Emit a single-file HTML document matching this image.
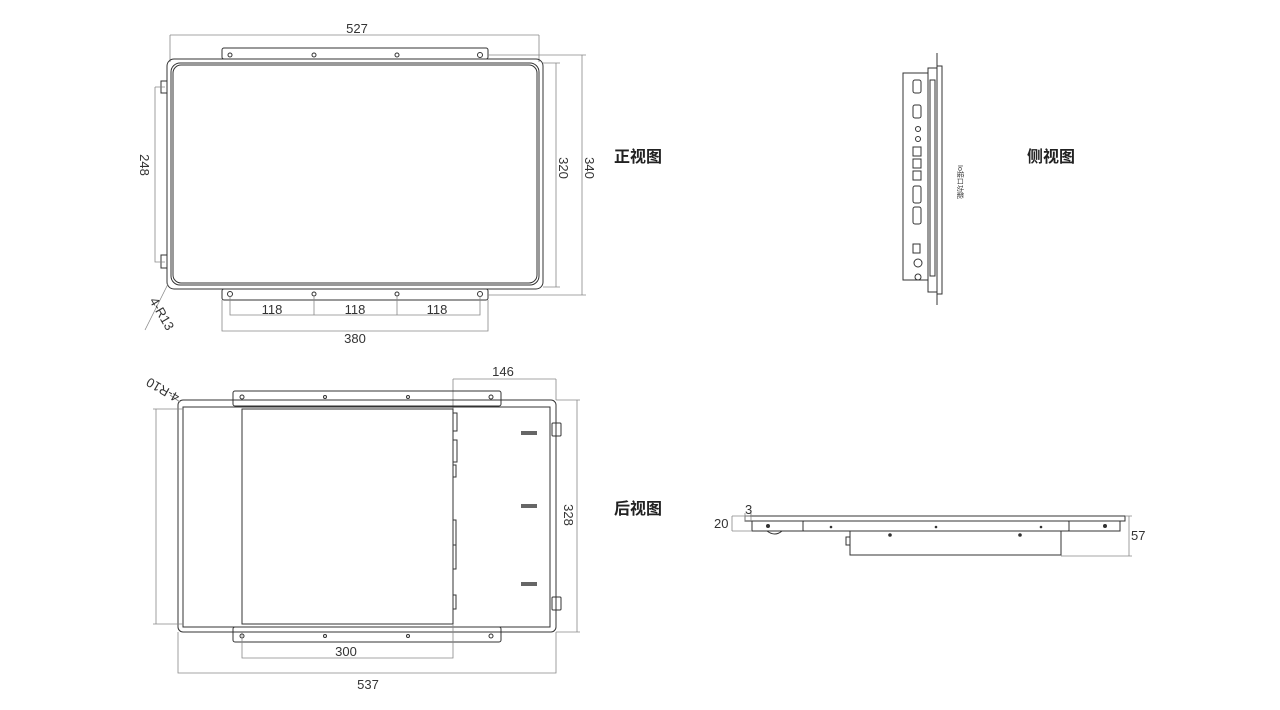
<!DOCTYPE html>
<html><head><meta charset="utf-8"><style>
html,body{margin:0;padding:0;background:#fff;}
svg{display:block}
text{font-family:"Liberation Sans","Noto Sans CJK SC",sans-serif;fill:#333}
.l{fill:none;stroke:#333;stroke-width:1}
.d{fill:none;stroke:#888;stroke-width:0.8}
.t{font-size:13px}
.c{font-size:16px;font-weight:bold;fill:#222}
</style></head><body>
<svg width="1280" height="710" viewBox="0 0 1280 710" xmlns="http://www.w3.org/2000/svg">
<!-- FRONT VIEW -->
<path class="d" d="M170 35H539M170 35V62M539 35V62"/>
<text class="t" x="357" y="33" text-anchor="middle">527</text>
<rect class="l" x="222" y="48" width="266" height="11" rx="2"/>
<g class="l"><circle cx="230" cy="55" r="2"/><circle cx="314" cy="55" r="2"/><circle cx="397" cy="55" r="2"/><circle cx="480" cy="55" r="2.5"/>
<circle cx="230" cy="294" r="2.5"/><circle cx="314" cy="294" r="2"/><circle cx="397" cy="294" r="2"/><circle cx="480" cy="294" r="2.5"/></g>
<rect class="l" x="167" y="59" width="376" height="230" rx="7"/>
<rect class="l" x="171" y="63" width="368" height="222" rx="9"/>
<rect class="l" x="173" y="65" width="364" height="218" rx="8"/>
<rect class="l" x="222" y="289" width="266" height="11" rx="2"/>
<rect class="l" x="161" y="81" width="6" height="12"/>
<rect class="l" x="161" y="255" width="6" height="13"/>
<path class="d" d="M155 87H165M155 87V262H165"/>
<text class="t" transform="translate(140,165) rotate(90)" text-anchor="middle">248</text>
<path class="d" d="M543 63H560M543 287H560M556 63V287"/>
<text class="t" transform="translate(559,168) rotate(90)" text-anchor="middle">320</text>
<path class="d" d="M488 55H586M488 295H586M582 55V295"/>
<text class="t" transform="translate(585,168) rotate(90)" text-anchor="middle">340</text>
<path class="d" d="M230 296V315H480V296M314 296V315M397 296V315M222 300V331H488V300"/>
<text class="t" x="272" y="314" text-anchor="middle">118</text>
<text class="t" x="355" y="314" text-anchor="middle">118</text>
<text class="t" x="437" y="314" text-anchor="middle">118</text>
<text class="t" x="355" y="343" text-anchor="middle">380</text>
<path class="d" d="M168 284L145 330"/>
<text class="t" font-size="11" transform="translate(158,316) rotate(60)" text-anchor="middle">4-R13</text>
<text class="c" x="614" y="162">正视图</text>

<!-- SIDE VIEW -->
<path class="l" d="M937 53V305"/>
<rect class="l" x="903" y="73" width="25" height="207"/>
<rect class="l" x="928" y="68" width="9" height="224"/>
<rect class="l" x="930" y="80" width="5" height="196"/>
<path class="l" d="M937 66H942V294H937"/>
<g class="l">
<rect x="913" y="80" width="8" height="13" rx="2"/><rect x="913" y="105" width="8" height="13" rx="2"/>
<circle cx="918" cy="129" r="2.5"/><circle cx="918" cy="139" r="2.5"/>
<rect x="913" y="147" width="8" height="9"/><rect x="913" y="159" width="8" height="9"/><rect x="913" y="171" width="8" height="9"/>
<rect x="913" y="186" width="8" height="17" rx="2"/><rect x="913" y="207" width="8" height="17" rx="2"/>
<rect x="913" y="244" width="7" height="9"/>
<circle cx="918" cy="263" r="4"/><circle cx="918" cy="277" r="3"/>
</g>
<text font-size="7" transform="translate(958,165) rotate(90)">Io接口功能</text>
<text class="c" x="1027" y="162">侧视图</text>

<!-- BACK VIEW -->
<path class="d" d="M453 379H556M453 379V410M556 379V400"/>
<text class="t" x="503" y="376" text-anchor="middle">146</text>
<rect class="l" x="233" y="391" width="268" height="15" rx="2"/>
<g class="l"><circle cx="242" cy="397" r="2"/><circle cx="325" cy="397" r="1.5"/><circle cx="408" cy="397" r="1.5"/><circle cx="491" cy="397" r="2"/>
<circle cx="242" cy="636" r="2"/><circle cx="325" cy="636" r="1.5"/><circle cx="408" cy="636" r="1.5"/><circle cx="491" cy="636" r="2"/></g>
<rect class="l" x="178" y="400" width="378" height="232" rx="5"/>
<rect class="l" x="183" y="407" width="367" height="220"/>
<rect class="l" x="242" y="409" width="211" height="215"/>
<rect class="l" x="233" y="627" width="268" height="15" rx="2"/>
<g class="l"><rect x="453" y="413" width="4" height="18"/><rect x="453" y="440" width="4" height="22"/><rect x="453" y="465" width="3" height="12"/><rect x="453" y="520" width="3" height="25"/><rect x="453" y="545" width="3" height="24"/><rect x="453" y="595" width="3" height="14"/>
<rect x="552" y="423" width="9" height="13" rx="1"/><rect x="552" y="597" width="9" height="13" rx="1"/></g>
<g fill="#666"><rect x="521" y="431" width="16" height="4"/><rect x="521" y="504" width="16" height="4"/><rect x="521" y="582" width="16" height="4"/></g>
<path class="d" d="M153 409H183M153 624H183M156 409V624"/>
<path class="d" d="M556 400H580M556 632H580M577 400V632"/>
<text class="t" transform="translate(564,515) rotate(90)" text-anchor="middle">328</text>
<path class="d" d="M242 632V658H453V624M178 632V673H556V632"/>
<text class="t" x="346" y="656" text-anchor="middle">300</text>
<text class="t" x="368" y="689" text-anchor="middle">537</text>
<path class="d" d="M180 402L170 395"/>
<text class="t" font-size="10" transform="translate(165,386) rotate(210)" text-anchor="middle">4-R10</text>
<text class="c" x="614" y="514">后视图</text>

<!-- BOTTOM VIEW -->
<rect class="l" x="745" y="516" width="380" height="5"/>
<rect class="l" x="752" y="521" width="368" height="10"/>
<rect class="l" x="803" y="521" width="266" height="10" rx="1"/>
<path class="l" d="M850 531V555H1061V531"/>
<path class="l" d="M767 531Q775 537 782 531"/>
<g fill="#333"><circle cx="768" cy="526" r="2"/><circle cx="831" cy="527" r="1.3"/><circle cx="936" cy="527" r="1.3"/><circle cx="1041" cy="527" r="1.3"/><circle cx="1105" cy="526" r="2"/><circle cx="890" cy="535" r="1.8"/><circle cx="1020" cy="535" r="1.8"/></g>
<rect class="l" x="846" y="537" width="4" height="8"/>
<path class="d" d="M1061 556H1132M1125 516H1132M1129 516V556M732 516H750M732 531H752M732 516V531M745 513V521M751 513V521"/>
<text class="t" x="1131" y="540">57</text>
<text class="t" x="714" y="528">20</text>
<text class="t" x="745" y="514">3</text>
</svg>
</body></html>
